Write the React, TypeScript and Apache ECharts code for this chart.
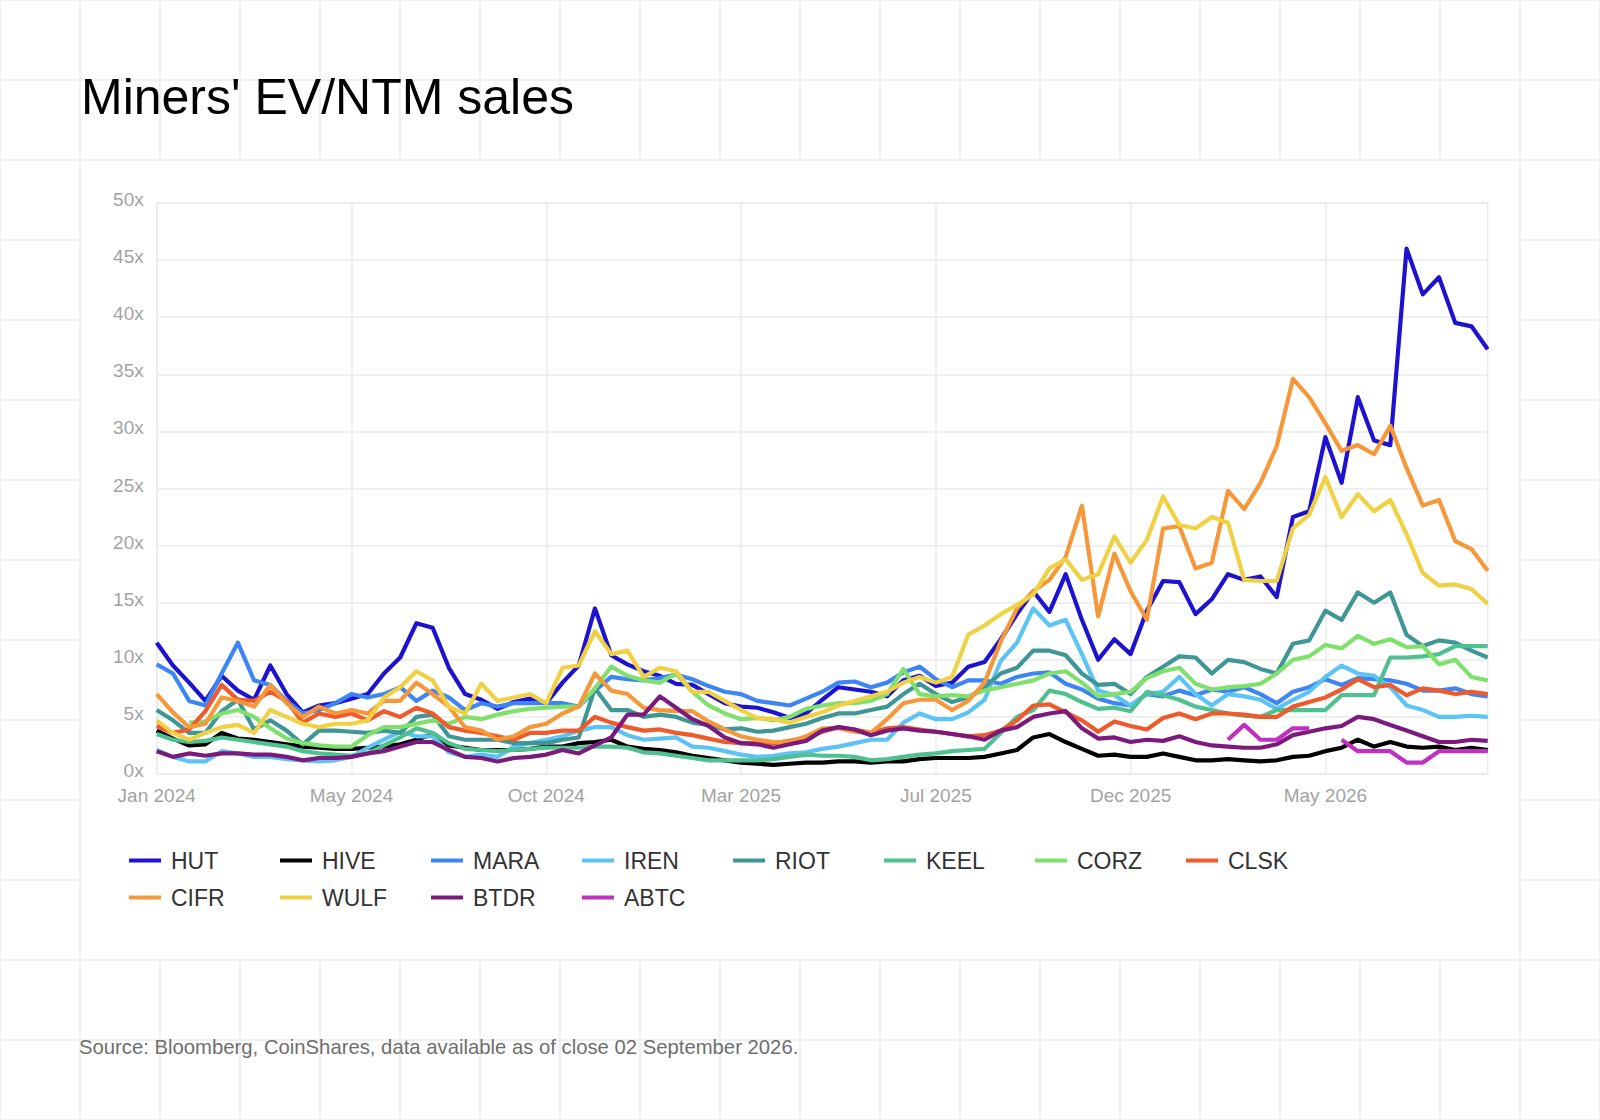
import React, { useEffect, useRef } from 'react';
import * as echarts from 'echarts';

// x axis: evenly spaced observation dates, labels every 12th point
const startDate = '2024-01-02';
const endDate = '2026-09-02';
const pointCount = 83;
const labelEvery = 12;
const monthNames = ['Jan', 'Feb', 'Mar', 'Apr', 'May', 'Jun', 'Jul', 'Aug', 'Sep', 'Oct', 'Nov', 'Dec'];

const tickers = ['HUT', 'HIVE', 'MARA', 'IREN', 'RIOT', 'KEEL', 'CORZ', 'CLSK', 'CIFR', 'WULF', 'BTDR', 'ABTC'];
const colors = ['#1c12cf', '#000000', '#3d85f5', '#5cc3f5', '#3f9696', '#4fc08f', '#7fe06c', '#ef5a2a', '#f6973a', '#f0d143', '#7b1a7c', '#c22fc2'];

// EV / NTM sales multiples (x)
const hut = [
  11.5, 9.5, 8.0, 6.4, 8.6, 7.3, 6.5, 9.5, 7.0, 5.4,
  6.0, 6.2, 6.6, 7.0, 8.8, 10.2, 13.2, 12.8, 9.3, 7.0,
  6.5, 5.7, 6.3, 6.6, 6.2, 8.0, 9.5, 14.5, 10.4, 9.6,
  9.0, 8.6, 7.9, 7.8, 7.0, 6.2, 5.9, 5.8, 5.4, 4.9,
  5.3, 6.5, 7.6, 7.4, 7.2, 6.8, 8.2, 8.6, 7.7, 8.0,
  9.4, 9.8, 11.8, 14.0, 16.0, 14.2, 17.5, 13.5, 10.0, 11.8,
  10.5, 14.3, 16.9, 16.8, 14.0, 15.3, 17.5, 17.0, 17.3, 15.5,
  22.5, 23.0, 29.5, 25.5, 33.0, 29.2, 28.8, 46.0, 42.0, 43.5,
  39.5, 39.2, 37.2,
];
const hive = [
  3.8, 3.1, 2.5, 2.6, 3.6, 3.1, 3.0, 2.8, 2.6, 2.4,
  2.3, 2.2, 2.2, 2.3, 2.4, 2.6, 3.0, 3.5, 2.5, 2.3,
  2.1, 2.1, 2.1, 2.2, 2.4, 2.4, 2.7, 2.8, 3.0, 2.4,
  2.2, 2.1, 1.9, 1.6, 1.4, 1.2, 1.0, 0.9, 0.8, 0.9,
  1.0, 1.0, 1.1, 1.1, 1.0, 1.1, 1.1, 1.3, 1.4, 1.4,
  1.4, 1.5, 1.8, 2.1, 3.2, 3.5, 2.8, 2.2, 1.6, 1.7,
  1.5, 1.5, 1.8, 1.5, 1.2, 1.2, 1.3, 1.2, 1.1, 1.2,
  1.5, 1.6, 2.0, 2.3, 3.0, 2.4, 2.8, 2.4, 2.3, 2.4,
  2.1, 2.3, 2.1,
];
const mara = [
  9.6, 8.8, 6.4, 6.0, 8.8, 11.5, 8.2, 7.8, 6.4, 5.3,
  5.6, 6.2, 7.0, 6.7, 7.0, 7.6, 6.4, 7.3, 6.7, 5.6,
  6.2, 5.9, 6.2, 6.2, 6.2, 6.2, 5.9, 7.3, 8.5, 8.3,
  8.2, 8.4, 8.7, 8.3, 7.7, 7.2, 7.0, 6.4, 6.2, 6.0,
  6.6, 7.2, 8.0, 8.1, 7.6, 8.0, 8.9, 9.4, 8.3, 7.6,
  8.2, 8.2, 7.9, 8.5, 8.8, 8.9, 7.9, 7.4, 6.6, 6.2,
  6.0, 7.0, 6.8, 7.3, 6.9, 7.4, 7.2, 7.6, 7.0, 6.2,
  7.2, 7.6, 8.3, 7.8, 8.4, 8.3, 8.2, 7.9, 7.3, 7.3,
  7.5, 7.0, 6.8,
];
const iren = [
  2.1, 1.5, 1.1, 1.1, 2.0, 1.8, 1.5, 1.5, 1.3, 1.2,
  1.1, 1.2, 1.5, 2.3, 3.0, 3.7, 3.3, 3.3, 1.9, 1.5,
  1.7, 1.5, 2.4, 2.7, 3.0, 3.3, 3.8, 4.1, 4.1, 3.4,
  3.0, 3.1, 3.2, 2.4, 2.3, 2.0, 1.7, 1.5, 1.6, 1.8,
  1.9, 2.2, 2.4, 2.7, 3.0, 3.0, 4.5, 5.3, 4.8, 4.8,
  5.4, 6.5, 9.9, 11.5, 14.5, 13.0, 13.5, 10.5, 7.3, 6.9,
  6.0, 7.0, 7.2, 8.5, 7.0, 6.0, 7.0, 6.8, 6.5, 5.7,
  6.5, 7.2, 8.5, 9.5, 8.8, 8.6, 7.6, 6.0, 5.6, 5.0,
  5.0, 5.1, 5.0,
];
const riot = [
  5.6, 4.7, 3.6, 3.6, 5.5, 6.5, 3.9, 4.7, 3.8, 2.6,
  3.8, 3.8, 3.7, 3.6, 3.8, 3.6, 5.0, 5.2, 3.3, 3.0,
  3.0, 3.0, 2.7, 2.7, 2.7, 3.0, 3.2, 7.5, 5.6, 5.6,
  5.0, 5.2, 5.0, 4.5, 4.3, 3.9, 4.0, 3.7, 3.8, 4.1,
  4.4, 4.9, 5.3, 5.3, 5.6, 5.9, 7.0, 7.9, 7.0, 6.3,
  6.7, 7.6, 8.8, 9.3, 10.8, 10.8, 10.4, 8.8, 7.8, 7.9,
  7.0, 8.5, 9.4, 10.3, 10.2, 8.8, 10.0, 9.8, 9.2, 8.8,
  11.4, 11.7, 14.3, 13.5, 15.9, 15.0, 15.9, 12.2, 11.2, 11.7,
  11.5, 10.8, 10.2,
];
const keel = [
  3.5, 3.0, 2.8, 2.9, 3.2, 3.0, 2.8, 2.6, 2.4, 2.0,
  1.8, 1.7, 1.6, 1.8, 2.5, 3.2, 4.0, 3.6, 2.7, 2.2,
  2.1, 2.0, 2.1, 2.2, 2.3, 2.3, 2.3, 2.4, 2.4, 2.3,
  1.9, 1.8, 1.6, 1.4, 1.2, 1.2, 1.2, 1.2, 1.3, 1.5,
  1.7, 1.6, 1.6, 1.5, 1.2, 1.3, 1.5, 1.7, 1.8, 2.0,
  2.1, 2.2, 3.6, 5.0, 5.6, 7.3, 7.0, 6.3, 5.7, 5.8,
  5.5, 7.2, 6.9, 6.5, 5.9, 5.6, 5.3, 5.1, 5.0, 5.6,
  5.6, 5.6, 5.6, 6.9, 6.9, 6.9, 10.2, 10.2, 10.3, 10.5,
  11.2, 11.2, 11.2,
];
const corz = [
  null, null, 4.5, 4.6, 5.3, 5.6, 5.0, 4.0, 3.1, 2.7,
  2.5, 2.4, 2.4, 3.4, 4.1, 4.1, 4.4, 4.7, 4.4, 5.0,
  4.8, 5.2, 5.5, 5.7, 5.8, 5.9, 5.9, 7.5, 9.4, 8.6,
  8.2, 8.0, 8.8, 7.2, 6.0, 5.3, 4.8, 4.9, 4.7, 5.0,
  5.7, 6.0, 6.2, 6.2, 6.4, 7.0, 9.2, 7.0, 6.8, 6.9,
  6.8, 7.3, 7.6, 7.9, 8.2, 8.8, 9.0, 8.0, 6.8, 7.0,
  7.2, 8.4, 9.0, 9.3, 7.9, 7.4, 7.6, 7.7, 7.9, 8.8,
  10.0, 10.3, 11.3, 11.0, 12.1, 11.4, 11.8, 11.1, 11.2, 9.6,
  10.0, 8.5, 8.2,
];
const clsk = [
  4.2, 3.6, 3.9, 5.5, 7.8, 6.5, 6.4, 7.2, 6.4, 4.5,
  5.3, 5.0, 5.3, 4.7, 5.5, 5.0, 5.8, 5.3, 4.1, 3.8,
  3.6, 3.3, 3.0, 3.6, 3.6, 3.8, 3.8, 5.0, 4.5, 4.1,
  3.8, 3.9, 3.6, 3.4, 3.1, 2.8, 2.7, 2.7, 2.7, 2.9,
  3.2, 3.7, 4.1, 3.9, 3.6, 4.0, 4.1, 3.9, 3.7, 3.5,
  3.3, 3.4, 3.8, 4.7, 6.0, 6.1, 5.4, 4.7, 3.7, 4.6,
  4.2, 3.9, 4.9, 5.3, 4.8, 5.3, 5.3, 5.2, 5.0, 5.0,
  5.9, 6.3, 6.7, 7.4, 8.3, 7.6, 7.8, 6.9, 7.5, 7.3,
  7.0, 7.2, 7.0,
];
const cifr = [
  7.0, 5.4, 4.1, 4.4, 6.7, 6.4, 5.9, 7.8, 6.2, 5.0,
  5.9, 5.3, 5.6, 5.3, 6.4, 6.4, 8.0, 7.0, 5.9, 4.1,
  3.8, 3.0, 3.3, 4.1, 4.4, 5.3, 5.9, 8.8, 7.3, 7.0,
  5.8, 5.6, 5.5, 5.5, 4.6, 3.9, 3.3, 3.0, 2.8, 2.8,
  3.3, 4.0, 4.0, 3.7, 3.6, 4.8, 6.2, 6.5, 6.5, 5.6,
  6.4, 8.0, 11.6, 14.5, 16.0, 17.0, 19.0, 23.5, 13.8, 19.3,
  16.0, 13.5, 21.5, 21.7, 18.0, 18.5, 24.8, 23.2, 25.5, 28.7,
  34.6, 33.0, 30.7, 28.3, 28.8, 28.0, 30.5, 26.8, 23.5, 24.0,
  20.4, 19.7, 17.8,
];
const wulf = [
  4.7, 3.6, 3.0, 3.6, 4.1, 4.3, 3.6, 5.6, 5.0, 4.4,
  4.1, 4.4, 4.4, 4.7, 6.7, 7.6, 9.0, 8.2, 5.9, 5.3,
  7.9, 6.4, 6.7, 7.0, 6.2, 9.3, 9.5, 12.5, 10.5, 10.8,
  8.5, 9.3, 9.0, 7.2, 7.2, 6.4, 5.6, 4.9, 4.8, 4.5,
  5.0, 5.4, 6.0, 6.4, 6.8, 7.2, 8.0, 8.5, 8.0, 8.5,
  12.2, 13.0, 14.0, 14.8, 15.7, 18.0, 18.8, 17.0, 17.5, 20.8,
  18.5, 20.5, 24.3, 21.8, 21.5, 22.5, 22.0, 17.0, 16.9, 16.9,
  21.5, 22.7, 26.0, 22.5, 24.5, 23.0, 24.0, 21.0, 17.6, 16.5,
  16.6, 16.2, 14.9,
];
const btdr = [
  2.0, 1.5, 1.8, 1.6, 1.8, 1.8, 1.7, 1.7, 1.5, 1.2,
  1.4, 1.4, 1.5, 1.8, 2.0, 2.4, 2.8, 2.8, 2.1, 1.5,
  1.4, 1.1, 1.4, 1.5, 1.7, 2.1, 1.8, 2.5, 3.2, 5.2,
  5.2, 6.8, 5.8, 4.8, 4.2, 3.2, 2.7, 2.6, 2.3, 2.6,
  2.9, 3.8, 4.1, 3.9, 3.4, 3.8, 4.0, 3.8, 3.7, 3.5,
  3.3, 3.0, 3.8, 4.1, 5.0, 5.3, 5.5, 4.0, 3.1, 3.2,
  2.8, 3.0, 2.9, 3.3, 2.8, 2.5, 2.4, 2.3, 2.3, 2.6,
  3.4, 3.7, 4.0, 4.2, 5.0, 4.8, 4.3, 3.8, 3.3, 2.8,
  2.8, 3.0, 2.9,
];
// ABTC only has data from point 66 on
const abtcFirstIndex = 66;
const abtcValues = [3.0, 4.3, 3.0, 3.0, 4.0, 4.0, null, 3.0, 2.0, 2.0, 2.0, 1.0, 1.0, 2.0, 2.0, 2.0, 2.0];

const FONT = '"Liberation Sans", Arial, Helvetica, sans-serif';

const buildCategories = () => {
  const day = 86400000;
  const t0 = Date.parse(startDate);
  const span = Math.round((Date.parse(endDate) - t0) / day);
  return Array.from({ length: pointCount }, (_, i) =>
    new Date(t0 + Math.round((span * i) / (pointCount - 1)) * day).toISOString().slice(0, 10)
  );
};

const App: React.FC = () => {
  const chartRef = useRef<HTMLDivElement>(null);

  useEffect(() => {
    document.body.style.margin = '0';
    if (!chartRef.current) return;
    const chart = echarts.init(chartRef.current, undefined, { renderer: 'svg' });

    const abtc = new Array(abtcFirstIndex).fill(null).concat(abtcValues);
    const values = [hut, hive, mara, iren, riot, keel, corz, clsk, cifr, wulf, btdr, abtc];

    const option = {
      animation: false,
      backgroundColor: 'transparent',
      textStyle: { fontFamily: FONT },
      graphic: [
        {
          type: 'text',
          x: 81,
          y: 97,
          style: { text: "Miners' EV/NTM sales", fontSize: 50, fontFamily: FONT, fill: '#000', verticalAlign: 'middle' },
        },
        {
          type: 'text',
          x: 79,
          y: 1047,
          style: {
            text: 'Source: Bloomberg, CoinShares, data available as of close 02 September 2026.',
            fontSize: 20.3,
            fontFamily: FONT,
            fill: '#6e6e6e',
            verticalAlign: 'middle',
          },
        },
      ],
      grid: {
        left: 156.7,
        top: 203,
        right: 112.3,
        bottom: 346,
        show: true,
        borderColor: '#ebebeb',
        borderWidth: 1.5,
      },
      legend: {
        data: tickers,
        left: 124,
        top: 837,
        width: 1230,
        icon: 'rect',
        itemWidth: 32,
        itemHeight: 4,
        itemGap: 0,
        textStyle: { fontFamily: FONT, fontSize: 23, color: '#333', width: 109, lineHeight: 37, padding: [0, 0, 0, 5] },
      },
      xAxis: {
        type: 'category',
        data: buildCategories(),
        boundaryGap: false,
        axisLine: { show: false },
        axisTick: { show: false },
        axisLabel: {
          interval: labelEvery - 1,
          color: '#a3a3a3',
          fontSize: 19,
          fontFamily: FONT,
          margin: 12,
          formatter: (v: string) => {
            const [y, m] = v.split('-');
            return `${monthNames[Number(m) - 1]} ${y}`;
          },
        },
        splitLine: { show: true, interval: labelEvery - 1, lineStyle: { color: '#ebebeb', width: 1.5 } },
      },
      yAxis: {
        type: 'value',
        min: 0,
        max: 50,
        interval: 5,
        axisLine: { show: false },
        axisTick: { show: false },
        axisLabel: {
          formatter: '{value}x',
          color: '#a3a3a3',
          fontSize: 19,
          fontFamily: FONT,
          margin: 13,
          verticalAlign: 'bottom',
          lineHeight: 7,
        },
        splitLine: { lineStyle: { color: '#ebebeb', width: 1.5 } },
      },
      series: tickers.map((name, i) => ({
        name,
        type: 'line',
        data: values[i],
        color: colors[i],
        showSymbol: false,
        symbol: 'none',
        connectNulls: false,
        lineStyle: { width: 4.2, color: colors[i], join: 'round' },
      })),
    };

    chart.setOption(option);
    return () => chart.dispose();
  }, []);

  return (
    <div
      style={{
        position: 'relative',
        width: 1600,
        height: 1120,
        overflow: 'hidden',
        backgroundColor: '#fff',
        backgroundImage:
          'linear-gradient(to right, #efefef 2px, transparent 2px), linear-gradient(to bottom, #efefef 2px, transparent 2px)',
        backgroundSize: '80px 80px',
        backgroundPosition: '-1px -1px',
      }}
    >
      <div style={{ position: 'absolute', left: 81, top: 161, width: 1438, height: 798, background: '#fff' }} />
      <div ref={chartRef} style={{ position: 'absolute', left: 0, top: 0, width: 1600, height: 1120 }} />
    </div>
  );
};

export default App;
